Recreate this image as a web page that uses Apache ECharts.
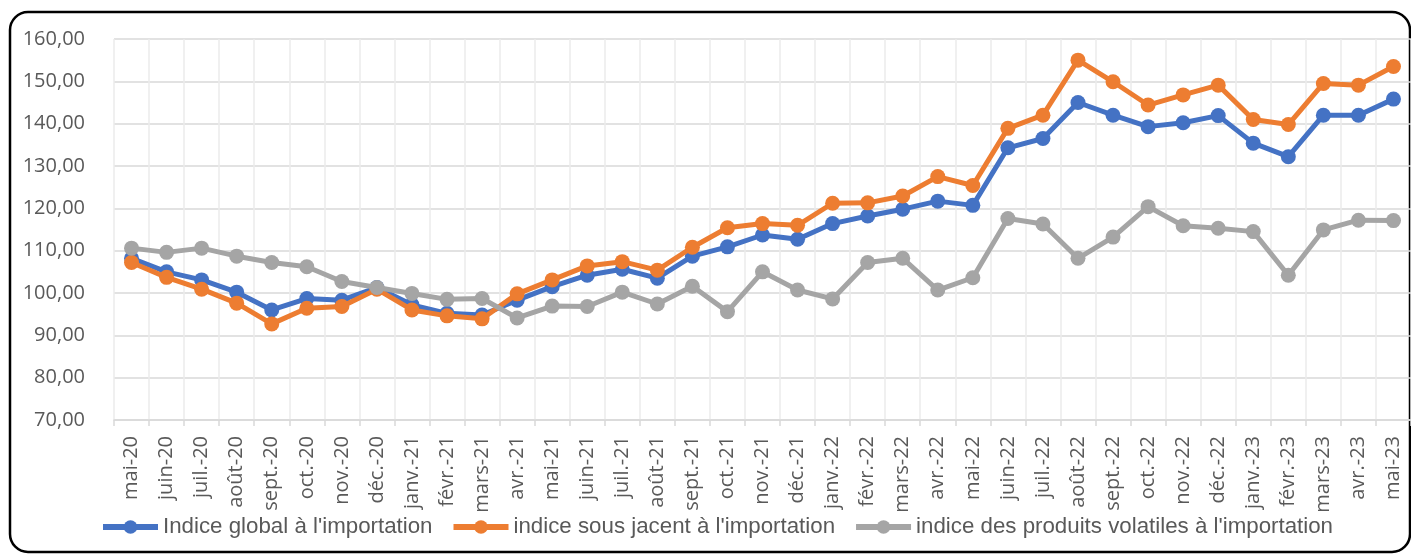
<!DOCTYPE html>
<html>
<head>
<meta charset="utf-8">
<script src="https://cdn.jsdelivr.net/npm/echarts@6/dist/echarts.min.js"></script>
<style>
  html, body { margin: 0; padding: 0; background: #fff; }
  #chart { width: 1411px; height: 554px; }
</style>
</head>
<body>
<div id="chart"></div>
<script>
// months, mai-20 .. mai-23
const months = ['mai-20', 'juin-20', 'juil.-20', 'août-20', 'sept.-20', 'oct.-20', 'nov.-20', 'déc.-20',
    'janv.-21', 'févr.-21', 'mars-21', 'avr.-21', 'mai-21', 'juin-21', 'juil.-21', 'août-21', 'sept.-21',
    'oct.-21', 'nov.-21', 'déc.-21', 'janv.-22', 'févr.-22', 'mars-22', 'avr.-22', 'mai-22', 'juin-22',
    'juil.-22', 'août-22', 'sept.-22', 'oct.-22', 'nov.-22', 'déc.-22', 'janv.-23', 'févr.-23', 'mars-23',
    'avr.-23', 'mai-23'];

const indiceGlobal = [108.2, 105.0, 103.1, 100.2, 96.0, 98.7, 98.3, 101.3, 97.2, 95.2, 94.8, 98.3, 101.5,
    104.2, 105.6, 103.5, 108.7, 110.9, 113.7, 112.7, 116.4, 118.2, 119.8, 121.7, 120.7, 134.3, 136.5,
    145.0, 142.0, 139.3, 140.2, 141.9, 135.4, 132.2, 142.0, 142.0, 145.8];

const indiceSousJacent = [107.2, 103.7, 100.9, 97.6, 92.7, 96.4, 96.8, 100.9, 96.0, 94.6, 93.9, 99.8, 103.1,
    106.4, 107.4, 105.4, 110.8, 115.4, 116.4, 116.0, 121.2, 121.3, 122.9, 127.5, 125.4, 138.9, 142.0,
    155.0, 149.9, 144.4, 146.8, 149.1, 141.0, 139.8, 149.5, 149.1, 153.5];

const indiceVolatiles = [110.6, 109.6, 110.6, 108.7, 107.2, 106.2, 102.7, 101.3, 99.9, 98.5, 98.7, 94.1, 96.9,
    96.8, 100.2, 97.4, 101.6, 95.6, 105.0, 100.7, 98.6, 107.2, 108.2, 100.7, 103.6, 117.6, 116.3,
    108.2, 113.2, 120.4, 115.9, 115.3, 114.5, 104.2, 114.9, 117.2, 117.1];

const seriesNames = ["Indice global à l'importation", "indice sous jacent à l'importation",
    "indice des produits volatiles à l'importation"];

const COLORS = ['#4472C4', '#ED7D31', '#A5A5A5'];
const TEXT = '#595959';

function lineSeries(name, data, idx) {
    return {
        name: name,
        type: 'line',
        data: data,
        symbol: 'circle',
        symbolSize: 15,
        lineStyle: { width: 5, color: COLORS[idx] },
        itemStyle: { color: COLORS[idx] },
        emphasis: { disabled: true },
        z: 2 + idx
    };
}

const chart = echarts.init(document.getElementById('chart'));

chart.setOption({
    animation: false,
    color: COLORS,
    textStyle: { fontFamily: '"Open Sans", sans-serif' },
    graphic: [{
        type: 'rect',
        shape: { x: 10, y: 12, width: 1400, height: 540, r: 18 },
        style: { fill: 'none', stroke: '#000', lineWidth: 2.5 },
        silent: true
    }],
    grid: {
        left: 114,
        top: 39,
        width: 1299,
        height: 381
    },
    legend: {
        data: seriesNames,
        top: 516,
        left: 100,
        padding: 0,
        itemWidth: 55,
        itemHeight: 17,
        itemGap: 18,
        lineStyle: { width: 6 },
        textStyle: {
            fontFamily: '"Liberation Sans", Arial, sans-serif',
            fontSize: 22.3,
            color: TEXT
        }
    },
    xAxis: {
        type: 'category',
        data: months,
        boundaryGap: true,
        axisLine: { lineStyle: { color: '#D9D9D9', width: 1.5 } },
        axisTick: { show: true, length: 6, interval: 0, lineStyle: { color: '#D9D9D9', width: 1.5 } },
        splitLine: { show: true, interval: 0, lineStyle: { color: '#EBEBEB', width: 1.5 } },
        axisLabel: {
            interval: 0,
            rotate: 90,
            margin: 16,
            fontSize: 20,
            color: TEXT
        }
    },
    yAxis: {
        type: 'value',
        min: 70,
        max: 160,
        interval: 10,
        axisLine: { show: false },
        axisTick: { show: false },
        splitLine: { lineStyle: { color: '#D9D9D9', width: 1.5 } },
        axisLabel: {
            margin: 29,
            fontSize: 20,
            color: TEXT,
            formatter: function (v) {
                return v.toFixed(2).replace('.', ',');
            }
        }
    },
    series: [
        lineSeries(seriesNames[0], indiceGlobal, 0),
        lineSeries(seriesNames[1], indiceSousJacent, 1),
        lineSeries(seriesNames[2], indiceVolatiles, 2)
    ]
});
</script>
</body>
</html>
